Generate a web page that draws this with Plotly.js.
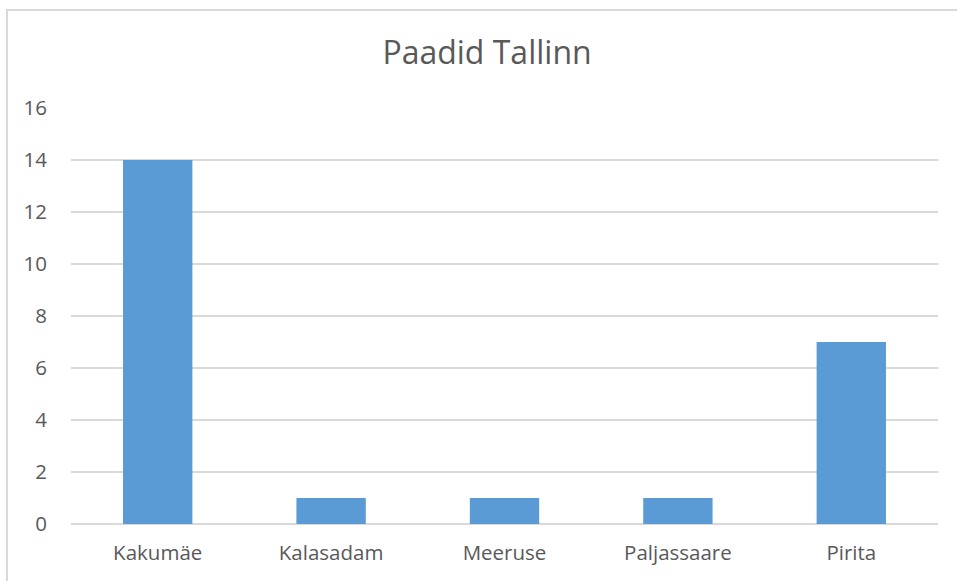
<!DOCTYPE html>
<html>
<head>
<meta charset="utf-8">
<script src="https://cdn.plot.ly/plotly-3.0.1.min.js"></script>
<style>
  html, body { margin: 0; padding: 0; background: #fff; }
  #wrap { position: relative; width: 957px; height: 581px; overflow: hidden; }
  #chart { width: 957px; height: 581px; }
  #frame { position: absolute; left: 6px; top: 9px; width: 1000px; height: 700px;
           border-left: 2px solid #d9d9d9; border-top: 2px solid #d9d9d9; pointer-events: none; }
</style>
</head>
<body>
<div id="wrap">
  <div id="chart"></div>
  <div id="frame"></div>
</div>
<script>
const categories = ["Kakumäe", "Kalasadam", "Meeruse", "Paljassaare", "Pirita"];
const values = [14, 1, 1, 1, 7];
const yTicks = [0, 2, 4, 6, 8, 10, 12, 14, 16];
const chartTitle = "Paadid Tallinn";

const textColor = "#595959";
const gridColor = "#d9d9d9";

const trace = {
  type: "bar",
  x: categories,
  y: values,
  marker: { color: "#5b9bd5" },
  hoverinfo: "x+y"
};

const layout = {
  width: 957,
  height: 581,
  paper_bgcolor: "#ffffff",
  plot_bgcolor: "#ffffff",
  margin: { l: 71, r: 19, t: 108, b: 57 },
  bargap: 0.6,
  showlegend: false,
  font: { family: "Open Sans, sans-serif", color: textColor, size: 20.5 },
  title: {
    text: chartTitle,
    font: { family: "Open Sans, sans-serif", size: 32, color: textColor },
    x: 487 / 957, xanchor: "center", xref: "container",
    y: 1 - 53 / 581, yanchor: "middle", yref: "container"
  },
  xaxis: {
    type: "category",
    showgrid: false,
    showline: false,
    zeroline: false,
    ticks: "outside",
    ticklen: 10,
    tickcolor: "rgba(0,0,0,0)",
    tickfont: { size: 20.5, color: textColor }
  },
  yaxis: {
    range: [0, 16],
    tickvals: yTicks,
    ticktext: yTicks.map(String),
    showgrid: true,
    gridcolor: gridColor,
    gridwidth: 1.5,
    zeroline: true,
    zerolinecolor: gridColor,
    zerolinewidth: 1.5,
    showline: false,
    ticks: "outside",
    ticklen: 19,
    tickcolor: "rgba(0,0,0,0)",
    tickfont: { size: 20.5, color: textColor }
  }
};

Plotly.newPlot("chart", [trace], layout, { staticPlot: true, displayModeBar: false });
</script>
</body>
</html>
